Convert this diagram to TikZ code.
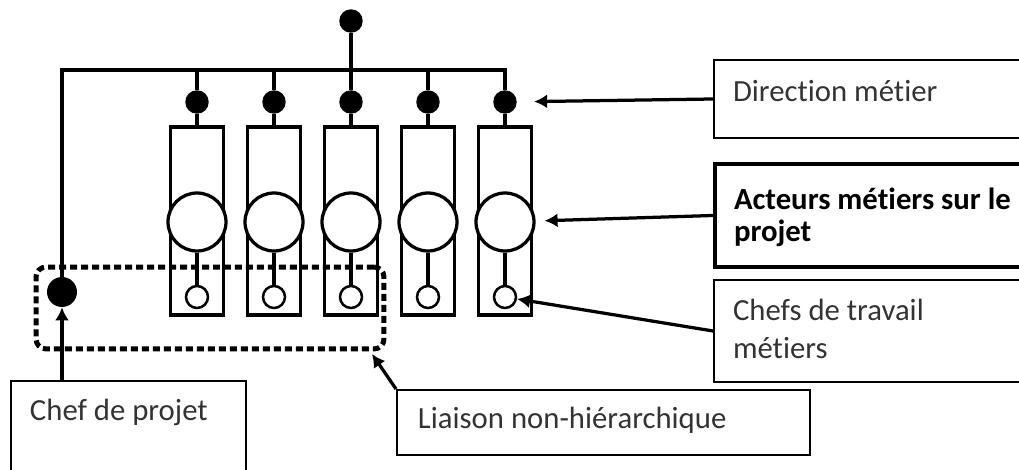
\documentclass[tikz,border=0pt]{standalone}
\usepackage{fontspec}
\setmainfont{Carlito}[Ligatures=NoCommon]
\usepackage{tikz}
\usetikzlibrary{arrows.meta}
\tikzstyle{pointer}=[line width=0.065cm, -{Latex[length=0.26cm,width=0.28cm]}]
\newcommand{\legendfont}{\fontsize{17.5}{21.6}\selectfont}

\begin{document}
\begin{tikzpicture}[x=0.02cm, y=-0.02cm]
			\tikzset{dot/.style = {shape=circle, fill, minimum size=0.47cm, inner sep=0pt}}
			\tikzset{column/.style = {shape=rectangle, draw, line width=0.065cm, minimum width=1.06cm, minimum height=3.76cm, inner sep=0pt}}
			\tikzset{actor/.style = {shape=circle, draw, fill=white, line width=0.065cm, minimum size=1.16cm, inner sep=0pt}}
			\tikzset{lead/.style = {shape=circle, draw, fill=white, line width=0.05cm, minimum size=0.44cm, inner sep=0pt}}
			\tikzset{legend/.style = {shape=rectangle, draw, line width=0.04cm, anchor=north west, align=flush left, inner xsep=0.38cm, inner ysep=0pt, font=\legendfont, text=black!80}}
			\tikzset{edge/.style = {line width=0.065cm}}
			\tikzset{liaison/.style = {shape=rectangle, draw, line width=0.1cm, rounded corners=0.2cm, dash pattern=on 0.14cm off 0.08cm, minimum width=6.96cm, minimum height=1.64cm}}
			\useasboundingbox (0,0) rectangle (1019,470);
			\clip (0,0) rectangle (1019,470);

			% columns
			\node[column] (col1) at (197,221) {};
			\node[column] (col2) at (274,221) {};
			\node[column] (col3) at (351,221) {};
			\node[column] (col4) at (428,221) {};
			\node[column] (col5) at (505,221) {};

			\node[actor] (act1) at (197,222) {};
			\node[actor] (act2) at (274,222) {};
			\node[actor] (act3) at (351,222) {};
			\node[actor] (act4) at (428,222) {};
			\node[actor] (act5) at (505,222) {};

			\node[lead] (lead1) at (197,297) {};
			\node[lead] (lead2) at (274,297) {};
			\node[lead] (lead3) at (351,297) {};
			\node[lead] (lead4) at (428,297) {};
			\node[lead] (lead5) at (505,297) {};

			\node[dot] (dir1) at (197,102) {};
			\node[dot] (dir2) at (274,102) {};
			\node[dot] (dir3) at (351,102) {};
			\node[dot] (dir4) at (428,102) {};
			\node[dot] (dir5) at (505,102) {};
			\node[dot] (head) at (351,21) {};
			\node[dot, minimum size=0.6cm] (pm) at (62,292) {};
			\coordinate (bar) at (0,70);

			% legends
			\node[legend, text width=5.74cm, text height=0.84cm, text depth=0.72cm] (dirbox) at (713,59) {Direction métier};
			\node[legend, line width=0.08cm, text=black, font={\fontsize{17.5}{18.2}\selectfont\bfseries}, text width=5.74cm, text height=0.92cm, text depth=1.14cm] (actbox) at (713,162) {Acteurs métiers sur le\\projet};
			\node[legend, text width=5.74cm, text height=0.82cm, text depth=1.22cm] (leadbox) at (713,279) {Chefs de travail\\métiers};
			\node[legend, inner xsep=0.42cm, text width=7.42cm, text height=0.78cm, text depth=0.52cm] (liaisonbox) at (396,389) {Liaison non-hiérarchique};
			\node[legend, text width=3.94cm, text height=0.8cm, text depth=1.8cm] (pmbox) at (10,380) {Chef de projet};

			%edges
			\draw[edge] (pm) -- (pm |- bar) -- (dir5 |- bar) -- (dir5);
			\draw[edge] (head) -- (head |- bar);
			\draw[edge] (dir1) -- (dir1 |- bar);
			\draw[edge] (dir2) -- (dir2 |- bar);
			\draw[edge] (dir3) -- (dir3 |- bar);
			\draw[edge] (dir4) -- (dir4 |- bar);
			\draw[edge] (dir1) -- (col1);
			\draw[edge] (dir2) -- (col2);
			\draw[edge] (dir3) -- (col3);
			\draw[edge] (dir4) -- (col4);
			\draw[edge] (dir5) -- (col5);
			\draw[edge] (act1) -- (lead1);
			\draw[edge] (act2) -- (lead2);
			\draw[edge] (act3) -- (lead3);
			\draw[edge] (act4) -- (lead4);
			\draw[edge] (act5) -- (lead5);

			% non-hierarchical link
			\node[liaison] (zone) at (210,308) {};
			\coordinate (zonetip) at (372,354);

			% arrows
			\draw[pointer, shorten >=0.34cm] (dirbox.west) -- (dir5);
			\draw[pointer, shorten >=0.18cm] (actbox.west) -- (act5);
			\draw[pointer] (leadbox.west) -- (lead5);
			\draw[pointer] (liaisonbox.north west) -- (zonetip);
			\draw[pointer] (pm |- pmbox.north) -- (pm);
\end{tikzpicture}
\end{document}
